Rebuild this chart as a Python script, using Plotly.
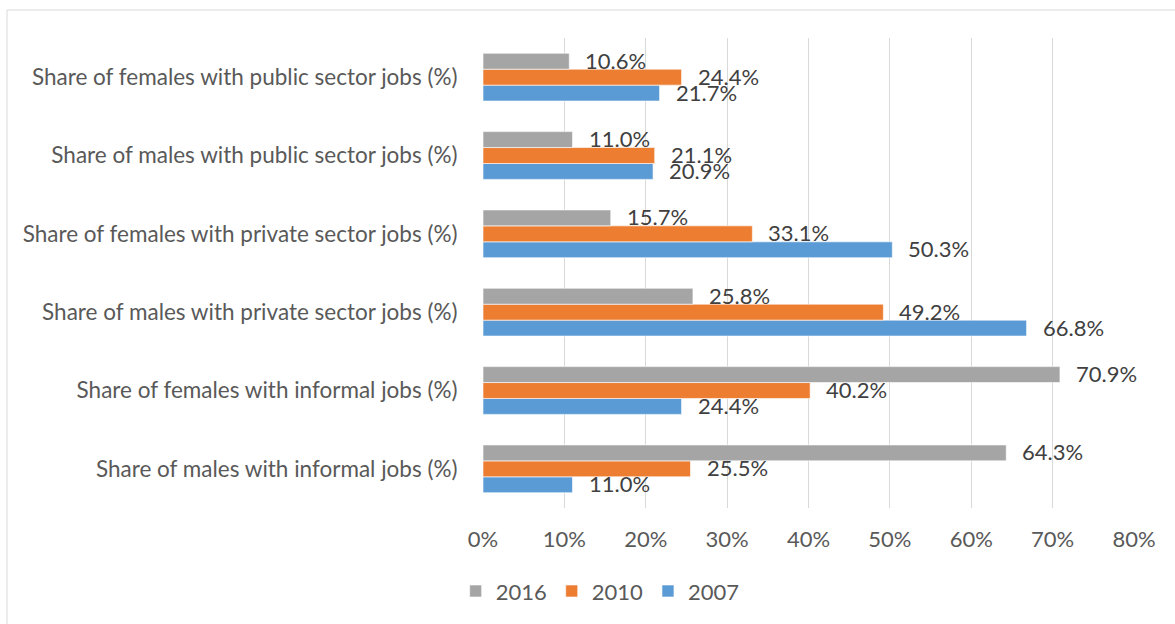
import plotly.graph_objects as go

categories = [
    "Share of males with informal jobs (%)",
    "Share of females with informal jobs (%)",
    "Share of males with private sector jobs (%)",
    "Share of females with private sector jobs (%)",
    "Share of males with public sector jobs (%)",
    "Share of females with public sector jobs (%)",
]
values_2007 = [11.0, 24.4, 66.8, 50.3, 20.9, 21.7]
values_2010 = [25.5, 40.2, 49.2, 33.1, 21.1, 24.4]
values_2016 = [64.3, 70.9, 25.8, 15.7, 11.0, 10.6]
x_ticks = [0, 10, 20, 30, 40, 50, 60, 70, 80]

series = [
    ("2007", values_2007, "#5B9BD5"),
    ("2010", values_2010, "#ED7D31"),
    ("2016", values_2016, "#A5A5A5"),
]

FONT = "Lato"
SIZE = 22
BARGAP = 0.39

positions = list(range(len(categories)))
bar_w = (1 - BARGAP) / len(series)

fig = go.Figure()
annotations = []
for k, (name, vals, color) in enumerate(series):
    fig.add_trace(go.Bar(
        name=name,
        y=positions,
        x=vals,
        orientation="h",
        marker=dict(color=color, line=dict(color="rgba(255,255,255,0.6)", width=1)),
    ))
    # value labels sit just past the end of each bar
    offset = (k - (len(series) - 1) / 2) * bar_w
    for pos, v in zip(positions, vals):
        annotations.append(dict(
            x=v, y=pos + offset,
            xref="x", yref="y",
            text=f"{v:.1f}%",
            showarrow=False,
            xanchor="left", yanchor="middle",
            xshift=14, yshift=1,
            font=dict(family=FONT, size=SIZE, color="#404040"),
        ))

fig.update_layout(
    width=1175,
    height=624,
    barmode="group",
    bargap=BARGAP,
    bargroupgap=0,
    plot_bgcolor="white",
    paper_bgcolor="white",
    margin=dict(l=483, r=41, t=38, b=116),
    font=dict(family=FONT, color="#595959"),
    showlegend=True,
    legend=dict(
        orientation="h",
        traceorder="reversed",
        x=-0.042, xanchor="left",
        y=-0.177, yanchor="middle",
        font=dict(family=FONT, size=SIZE, color="#595959"),
        itemwidth=30,
        tracegroupgap=0,
    ),
    xaxis=dict(
        range=[0, 80],
        tickvals=x_ticks,
        ticktext=[f"{t}%" for t in x_ticks],
        showgrid=True,
        gridcolor="#D9D9D9",
        gridwidth=1.3,
        zeroline=False,
        showline=False,
        ticks="outside",
        ticklen=12,
        tickcolor="rgba(0,0,0,0)",
        tickfont=dict(family=FONT, size=SIZE, color="#595959"),
    ),
    yaxis=dict(
        range=[-0.5, len(categories) - 0.5],
        tickvals=positions,
        ticktext=categories,
        showgrid=False,
        zeroline=False,
        showline=False,
        ticks="outside",
        ticklen=20,
        tickcolor="rgba(0,0,0,0)",
        tickfont=dict(family=FONT, size=22.5, color="#595959"),
    ),
    annotations=annotations,
    shapes=[dict(
        type="rect",
        xref="paper", yref="paper",
        x0=(7 - 483) / 651, x1=1.2,
        y0=-0.4, y1=(508 - 10) / 470,
        line=dict(color="#D9D9D9", width=1),
        layer="below",
    )],
)

fig.write_html("out.html")
